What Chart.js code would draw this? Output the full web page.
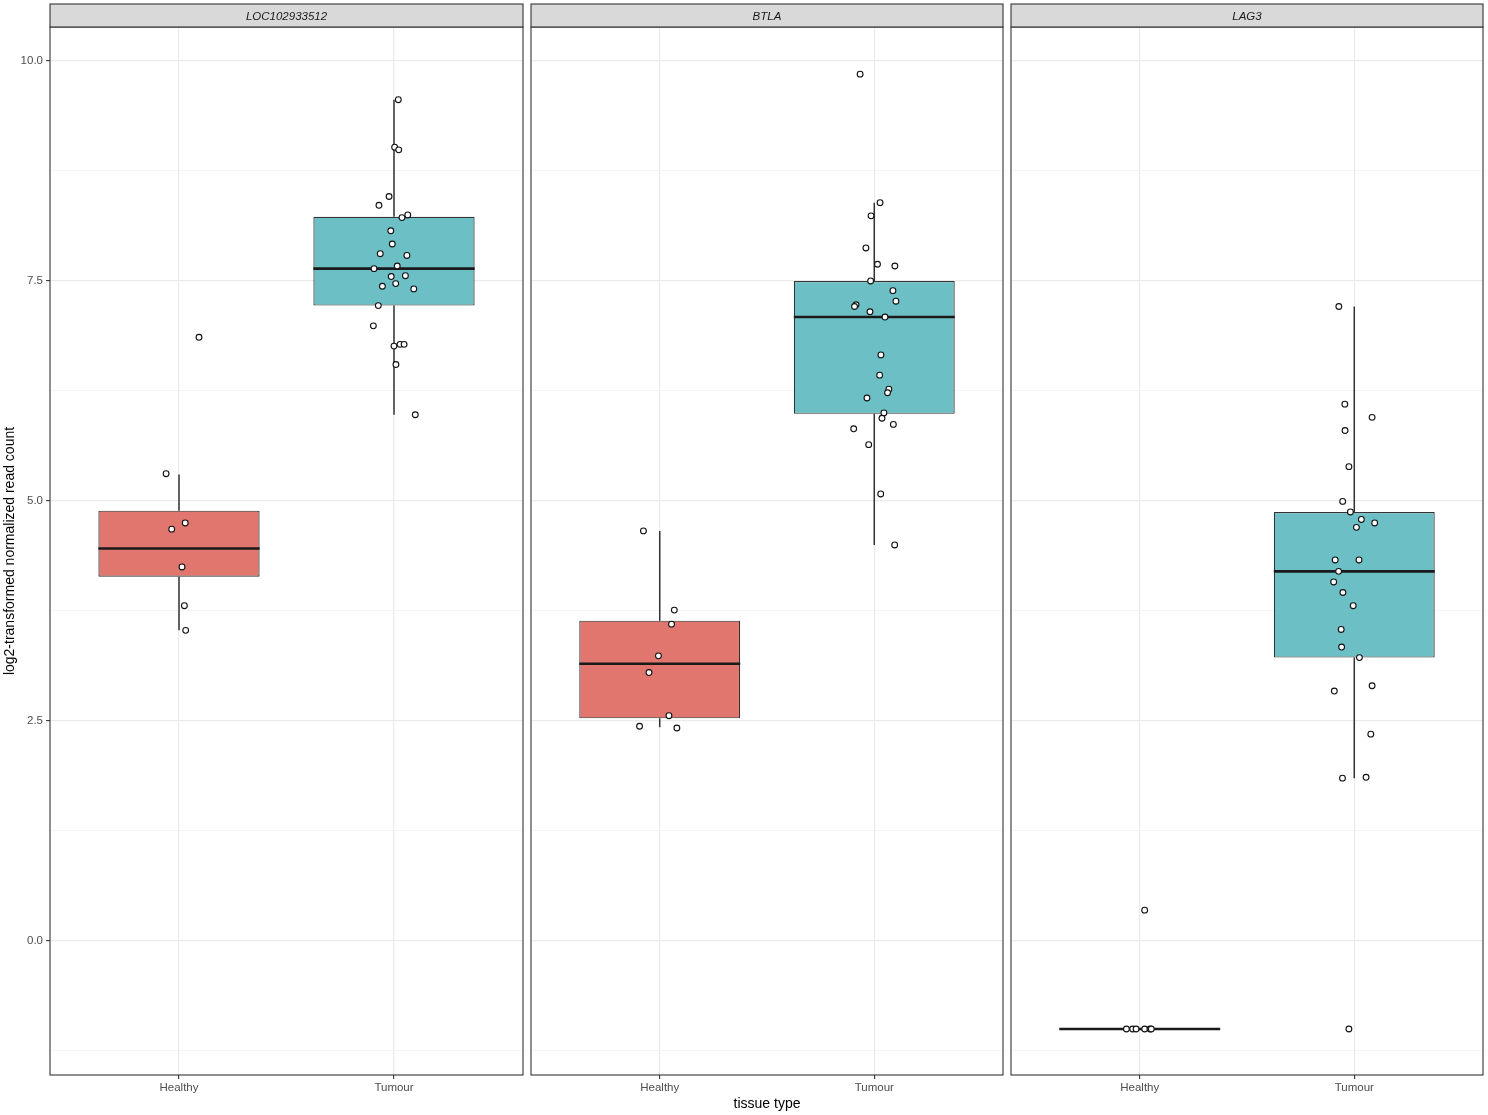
<!DOCTYPE html>
<html><head><meta charset="utf-8">
<script src="https://cdn.jsdelivr.net/npm/chart.js@4"></script>
<style>
html,body{margin:0;padding:0;background:#fff;}
#wrap{position:relative;width:1488px;height:1115px;overflow:hidden;background:#fff;}
.pane{position:absolute;top:0;height:1115px;}
canvas{display:block;}
</style></head><body>
<div id="wrap">
<div class="pane" style="left:0px;width:525px"><canvas id="c0" width="525" height="1115"></canvas></div>
<div class="pane" style="left:529px;width:476px"><canvas id="c1" width="476" height="1115"></canvas></div>
<div class="pane" style="left:1009px;width:476px"><canvas id="c2" width="476" height="1115"></canvas></div>
</div>
<script>
// ---------- data ----------
const genes = ['LOC102933512', 'BTLA', 'LAG3'];
const categories = ['Healthy', 'Tumour'];
const yMajorTicks = [0, 2.5, 5, 7.5, 10];
const yTickLabels = ['0.0', '2.5', '5.0', '7.5', '10.0'];
const yMinorTicks = [-1.25, 1.25, 3.75, 6.25, 8.75];
const yAxisTitle = 'log2-transformed normalized read count';
const xAxisTitle = 'tissue type';

// box statistics per gene: [Healthy, Tumour]
const whiskerLow  = [[3.53, 5.98], [2.43, 4.50], [-1.00, 1.85]];
const boxQ1       = [[4.14, 7.22], [2.53, 5.99], [-1.00, 3.22]];
const boxMedian   = [[4.46, 7.64], [3.15, 7.09], [-1.00, 4.20]];
const boxQ3       = [[4.89, 8.23], [3.64, 7.50], [-1.00, 4.875]];
const whiskerHigh = [[5.30, 9.56], [4.66, 8.39], [-1.00, 7.21]];

// jittered sample points (value, horizontal jitter in category units)
const locHealthyY = [6.86, 5.31, 4.75, 4.68, 4.25, 3.81, 3.53];
const locHealthyJ = [0.093, -0.060, 0.029, -0.034, 0.014, 0.025, 0.031];
const locTumourY = [9.56, 9.02, 8.99, 8.46, 8.36, 8.25, 8.22, 8.07, 7.92, 7.81, 7.79, 7.64, 7.67, 7.55, 7.56, 7.47, 7.44, 7.41, 7.22, 6.99, 6.76, 6.78, 6.78, 6.55, 5.98];
const locTumourJ = [0.020, 0.003, 0.022, -0.023, -0.070, 0.064, 0.037, -0.015, -0.008, -0.064, 0.060, -0.093, 0.015, -0.013, 0.053, 0.008, -0.054, 0.092, -0.073, -0.096, 0.000, 0.028, 0.047, 0.009, 0.099];
const btlaHealthyY = [4.66, 3.76, 3.60, 3.24, 3.05, 2.56, 2.44, 2.42];
const btlaHealthyJ = [-0.076, 0.068, 0.055, -0.006, -0.050, 0.043, -0.094, 0.080];
const btlaTumourY = [9.85, 8.39, 8.24, 7.875, 7.69, 7.67, 7.50, 7.39, 7.27, 7.23, 7.21, 7.15, 7.09, 6.66, 6.43, 6.27, 6.23, 6.17, 6.00, 5.94, 5.87, 5.82, 5.64, 5.08, 4.50];
const btlaTumourJ = [-0.066, 0.027, -0.015, -0.039, 0.015, 0.096, -0.017, 0.087, 0.101, -0.085, -0.092, -0.020, 0.050, 0.031, 0.025, 0.068, 0.062, -0.034, 0.045, 0.036, 0.089, -0.096, -0.026, 0.030, 0.095];
const lagHealthyY = [0.35, -1.00, -1.00, -1.00, -1.00, -1.00, -1.00];
const lagHealthyJ = [0.023, -0.062, -0.033, -0.017, 0.023, 0.048, 0.054];
const lagTumourY = [7.21, 6.10, 5.95, 5.80, 5.39, 4.995, 4.875, 4.79, 4.75, 4.70, 4.33, 4.33, 4.20, 4.08, 3.96, 3.81, 3.54, 3.34, 3.22, 2.90, 2.84, 2.35, 1.85, 1.86, -1.00];
const lagTumourJ = [-0.072, -0.044, 0.083, -0.043, -0.025, -0.054, -0.018, 0.033, 0.095, 0.010, -0.089, 0.022, -0.073, -0.096, -0.053, -0.005, -0.061, -0.059, 0.024, 0.083, -0.093, 0.077, -0.055, 0.055, -0.025];

const pointValues = [[locHealthyY, locTumourY], [btlaHealthyY, btlaTumourY], [lagHealthyY, lagTumourY]];
const pointJitter = [[locHealthyJ, locTumourJ], [btlaHealthyJ, btlaTumourJ], [lagHealthyJ, lagTumourJ]];

// ---------- style ----------
const FONT = "'Liberation Sans', Arial, Helvetica, sans-serif";
const fillColors = ['#E0766E', '#6CBFC4'];
const BOX_W = 0.75;
const Y_MIN = -1.523, Y_MAX = 10.386;
Chart.defaults.font.family = FONT;

const isMajor = v => yMajorTicks.some(t => Math.abs(t - v) < 1e-6);

const panelPlugin = {
  id: 'panelDecor',
  afterDraw(chart, args, opts) {
    const {ctx, chartArea: a} = chart;
    ctx.save();
    ctx.strokeStyle = '#333333';
    ctx.lineWidth = 1.1;
    ctx.strokeRect(a.left, a.top, a.right - a.left, a.bottom - a.top);
    ctx.fillStyle = '#D9D9D9';
    ctx.fillRect(a.left, 4, a.right - a.left, a.top - 4);
    ctx.strokeRect(a.left, 4, a.right - a.left, a.top - 4);
    ctx.fillStyle = '#1A1A1A';
    ctx.font = 'italic 11.5px ' + FONT;
    ctx.textAlign = 'center';
    ctx.textBaseline = 'middle';
    ctx.fillText(opts.label, (a.left + a.right) / 2, (a.top + 4) / 2 + 1);
    ctx.restore();
  }
};

function makeChart(g) {
  const datasets = [];
  for (let c = 0; c < 2; c++) {
    datasets.push({
      type: 'scatter', order: 0,
      data: pointValues[g][c].map((y, k) => ({x: c + 1 + pointJitter[g][c][k], y})),
      pointRadius: 2.9, pointHoverRadius: 2.9, pointBorderWidth: 1.1,
      pointBackgroundColor: '#FFFFFF', pointBorderColor: '#111111'
    });
  }
  const med = [];
  for (let c = 0; c < 2; c++) {
    med.push({x: c + 1 - BOX_W / 2, y: boxMedian[g][c]}, {x: c + 1 + BOX_W / 2, y: boxMedian[g][c]}, {x: c + 1, y: null});
  }
  datasets.push({type: 'line', order: 1, data: med, borderColor: '#1A1A1A', borderWidth: 2.6,
    pointRadius: 0, fill: false, spanGaps: false, tension: 0, borderCapStyle: 'butt'});
  datasets.push({
    type: 'bar', order: 2,
    data: [0, 1].map(c => ({x: c + 1, y: [boxQ1[g][c], boxQ3[g][c]]})),
    backgroundColor: fillColors, borderColor: '#333333', borderWidth: 1.2,
    borderSkipped: false, barPercentage: BOX_W, categoryPercentage: 1, grouped: false
  });
  const wh = [];
  for (let c = 0; c < 2; c++) {
    wh.push({x: c + 1, y: boxQ3[g][c]}, {x: c + 1, y: whiskerHigh[g][c]}, {x: c + 1, y: null},
            {x: c + 1, y: whiskerLow[g][c]}, {x: c + 1, y: boxQ1[g][c]}, {x: c + 1, y: null});
  }
  datasets.push({type: 'line', order: 3, data: wh, borderColor: '#333333', borderWidth: 1.5,
    pointRadius: 0, fill: false, spanGaps: false, tension: 0});

  const first = g === 0;
  return new Chart(document.getElementById('c' + g), {
    type: 'bar',
    data: {datasets},
    plugins: [panelPlugin],
    options: {
      responsive: false, animation: false, events: [],
      layout: {autoPadding: false, padding: {left: first ? 0 : 2, right: 2, top: 27, bottom: 0}},
      plugins: {legend: {display: false}, tooltip: {enabled: false}, title: {display: false},
        panelDecor: {label: genes[g]}},
      scales: {
        x: {
          type: 'linear', min: 0.4, max: 2.6, offset: false, bounds: 'data',
          afterBuildTicks: s => { s.ticks = categories.map((_, i) => ({value: i + 1})); },
          afterFit: s => { s.height = 40; },
          ticks: {autoSkip: false, maxRotation: 0, padding: 2, color: '#4D4D4D',
            font: {size: 11.5, family: FONT},
            callback: v => categories[Math.round(v) - 1]},
          grid: {offset: false, color: '#EBEBEB', lineWidth: 1.2, drawTicks: true, tickLength: 4,
            tickColor: '#333333', tickWidth: 1.1},
          border: {display: false},
          title: {display: g === 1, text: xAxisTitle, color: '#000000',
            font: {size: 14, family: FONT}, padding: {top: 0, bottom: 2}}
        },
        y: {
          type: 'linear', min: Y_MIN, max: Y_MAX, bounds: 'data',
          afterBuildTicks: s => { s.ticks = yMinorTicks.concat(yMajorTicks).sort((a, b) => a - b).map(v => ({value: v})); },
          afterFit: s => { s.width = first ? 50 : 0; },
          ticks: {display: first, autoSkip: false, padding: 3, color: '#4D4D4D',
            font: {size: 11.5, family: FONT},
            callback: v => { const i = yMajorTicks.findIndex(t => Math.abs(t - v) < 1e-6); return i >= 0 ? yTickLabels[i] : ''; }},
          grid: {
            color: c => isMajor(c.tick.value) ? '#EBEBEB' : '#F2F2F2',
            lineWidth: c => isMajor(c.tick.value) ? 1.2 : 0.8,
            drawTicks: first, tickLength: 4,
            tickColor: c => isMajor(c.tick.value) ? '#333333' : 'rgba(0,0,0,0)', tickWidth: 1.1
          },
          border: {display: false},
          title: {display: first, text: yAxisTitle, color: '#000000',
            font: {size: 14, family: FONT}, padding: {top: 2, bottom: 0}}
        }
      }
    }
  });
}
[0, 1, 2].forEach(makeChart);
</script>
</body></html>
